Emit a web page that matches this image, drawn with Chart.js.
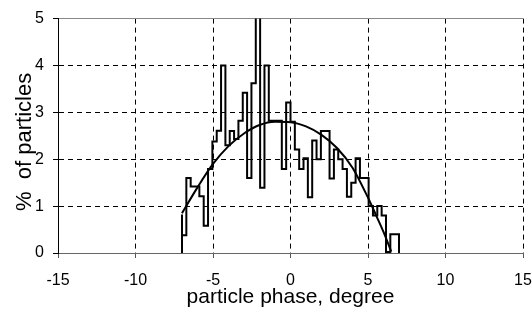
<!DOCTYPE html>
<html>
<head>
<meta charset="utf-8">
<script src="https://cdn.jsdelivr.net/npm/chart.js@4"></script>
<style>
  html, body { margin: 0; padding: 0; background: #fff; }
  #wrap { width: 532px; height: 313px; }
</style>
</head>
<body>
<div id="wrap"><canvas id="myChart" width="532" height="313"></canvas></div>
<script>
// histogram of particle phase: bins start at -7 deg, 0.28 deg wide
const binStart = -7.0;
const binWidth = 0.28;
const particlePct = [
  0.82, 0.38, 1.6, 1.42, 1.42, 1.21, 0.58, 1.79, 2.38, 2.61,
  4.0, 2.3, 2.6, 2.43, 2.82, 3.42, 1.6, 3.62, 5.6, 1.39,
  4.0, 2.82, 2.82, 2.82, 1.79, 3.21, 2.8, 2.21, 1.79, 2.02,
  1.19, 2.4, 2.0, 2.6, 2.6, 1.59, 2.21, 2.0, 1.79, 1.2,
  1.5, 2.02, 1.6, 1.6, 1.0, 0.8, 1.0, 0.8, 0.02, 0.4,
];

// fitted curve
const curvePhase = [-7, -6, -5, -4, -3, -2, -1, 0, 1, 2, 3, 4, 5, 5.5, 6, 6.5];
const curvePct = [0.85, 1.4, 1.9, 2.28, 2.55, 2.73, 2.8, 2.79, 2.7, 2.52, 2.24, 1.82, 1.18, 0.82, 0.45, 0.03];

// axis ticks
const xTicks = [-15, -10, -5, 0, 5, 10, 15];
const yTicks = [0, 1, 2, 3, 4, 5];

const FONT = "'Liberation Sans', Arial, sans-serif";

//outline of the histogram, one point per bin edge
const histPoints = () => {
  const pts = [{ x: binStart, y: 0 }];
  particlePct.forEach((v, i) => pts.push({ x: binStart + i * binWidth, y: v }));
  const end = binStart + particlePct.length * binWidth;
  pts.push({ x: end, y: particlePct[particlePct.length - 1] });
  pts.push({ x: end, y: 0 });
  return pts;
};

const curvePoints = () => curvePhase.map((x, i) => ({ x: x, y: curvePct[i] }));

const ctx = document.getElementById("myChart").getContext("2d");
const myChart = new Chart(ctx, {
  type: "scatter",
  data: {
    datasets: [
      {
        label: "histogram",
        data: histPoints(),
        showLine: true,
        stepped: "after",
        borderColor: "#000",
        borderWidth: 2,
        pointRadius: 0,
        fill: false,
      },
      {
        label: "fit",
        data: curvePoints(),
        showLine: true,
        cubicInterpolationMode: "monotone",
        borderColor: "#000",
        borderWidth: 2,
        pointRadius: 0,
        fill: false,
      },
    ],
  },
  options: {
    responsive: false,
    animation: false,
    layout: { padding: { top: 16, right: 9, left: 0, bottom: 0 } },
    plugins: { legend: { display: false }, tooltip: { enabled: false } },
    scales: {
      x: {
        type: "linear",
        min: xTicks[0],
        max: xTicks[xTicks.length - 1],
        afterBuildTicks: (s) => { s.ticks = xTicks.map((v) => ({ value: v })); },
        afterFit: (s) => { s.height = 60; s.paddingLeft = 0; s.paddingRight = 0; },
        ticks: { color: "#000", font: { family: FONT, size: 16 }, padding: 13, maxRotation: 0 },
        grid: {
          color: (c) => (c.tick && c.tick.value === -15 ? "rgba(0,0,0,0)" : "#000"),
          lineWidth: 1,
          tickLength: 5,
          tickColor: "#555",
          tickBorderDash: [],
        },
        border: { display: true, color: "#666", width: 1, dash: [5, 4] },
        title: {
          display: true,
          text: "particle phase, degree",
          color: "#000",
          font: { family: FONT, size: 21 },
          padding: { top: 0, bottom: 3 },
        },
      },
      y: {
        type: "linear",
        min: yTicks[0],
        max: yTicks[yTicks.length - 1],
        afterBuildTicks: (s) => { s.ticks = yTicks.map((v) => ({ value: v })); },
        afterFit: (s) => { s.width = 58; },
        ticks: { color: "#000", font: { family: FONT, size: 16 }, padding: 9 },
        grid: {
          color: (c) => (c.tick && c.tick.value === 5 ? "#888" : "#000"),
          lineWidth: 1,
          tickLength: 5,
          tickColor: "#000",
          tickBorderDash: [],
        },
        border: {
          display: true,
          color: "#000",
          width: 1,
          dash: (c) => (c.tick && c.tick.value === 5 ? [] : [5, 4]),
        },
        title: {
          display: true,
          text: "%  of particles  ",
          color: "#000",
          font: { family: FONT, size: 22 },
          padding: { top: 12, bottom: 0 },
        },
      },
    },
  },
});
</script>
</body>
</html>
